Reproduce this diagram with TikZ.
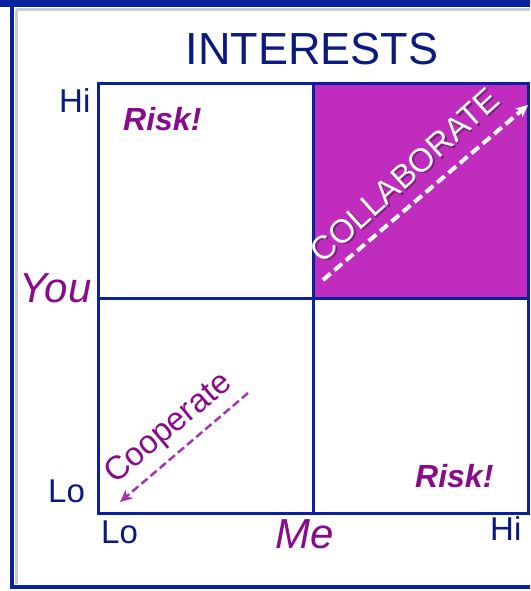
\documentclass[tikz,border=0pt]{standalone}
\usepackage{fontspec}
\setmainfont{Liberation Sans}
\usetikzlibrary{arrows.meta}
\definecolor{frameblue}{HTML}{0A22A0}
\definecolor{navy}{HTML}{0A1A80}
\definecolor{txtpurple}{HTML}{8A0A8C}
\definecolor{cellpurple}{HTML}{C02DBE}
\definecolor{arrowpurple}{HTML}{A535AE}
\begin{document}
\begin{tikzpicture}[x=1pt,y=-1pt,
  lbl/.style={inner sep=0pt, anchor=base west, text=navy, font=\fontsize{33}{33}\selectfont},
  axislbl/.style={inner sep=0pt, anchor=base west, text=txtpurple, font=\fontsize{42}{42}\selectfont\itshape},
  risk/.style={inner sep=0pt, anchor=base west, text=txtpurple, font=\fontsize{32}{32}\selectfont\bfseries\itshape},
  cell/.style={draw=frameblue, line width=3pt, minimum width=215pt, minimum height=215pt, inner sep=0pt, anchor=north west},
  dashwhite/.style={draw=white, line width=4pt, dash pattern=on 10pt off 5pt, -{Stealth[length=12pt,width=11pt,inset=3pt]}},
  dashpurple/.style={draw=arrowpurple, line width=2.5pt, dash pattern=on 8pt off 4pt, -{Stealth[length=12pt,width=11pt,inset=3pt]}},
]
\useasboundingbox (0,0) rectangle (530,591);
\begin{scope}
\clip (0,0) rectangle (530,591);
\draw[black!20, line width=3pt] (16,10) -- (540,10);
\draw[black!20, line width=3pt] (16,10) -- (16,584);
\draw[frameblue, line width=4pt] (12,3) rectangle (560,587);
\fill[frameblue] (0,0) rectangle (530,7);
\end{scope}
% grid cells
\node[cell, fill=cellpurple] (hh) at (312,82) {};
\node[cell] (lh) at (97,82) {};
\node[cell] (ll) at (97,297) {};
\node[cell] (hl) at (312,297) {};
% title and axis labels
\node[inner sep=0pt, anchor=base, text=navy, font=\fontsize{45}{45}\selectfont] (title) at (312,65) {INTERESTS};
\node[lbl] (yhi) at (59,113) {Hi};
\node[lbl] (ylo) at (48,502) {Lo};
\node[lbl] (xlo) at (101,543) {Lo};
\node[lbl] (xhi) at (490,540) {Hi};
\node[axislbl] (you) at (19,302) {You};
\node[axislbl] (me) at (275,548) {Me};
\node[risk] (risk1) at (123,131) {Risk!};
\node[risk] (risk2) at (415,487) {Risk!};
% collaborate
\coordinate (cs) at (323,280);
\coordinate (ce) at (528,105);
\draw[dashwhite] (cs) -- (ce);
\node[inner sep=0pt, rotate=42, text=black, opacity=0.35, font=\fontsize{33}{33}\selectfont] (collabshadow) at (406.5,176.5) {COLLABORATE};
\node[inner sep=0pt, rotate=42, text=white, font=\fontsize{33}{33}\selectfont] (collab) at (405,175) {COLLABORATE};
% cooperate
\coordinate (ps) at (248,393);
\coordinate (pe) at (120,502);
\draw[dashpurple] (ps) -- (pe);
\node[inner sep=0pt, rotate=40, text=txtpurple, font=\fontsize{33}{33}\selectfont] (coop) at (169,429) {Cooperate};
\end{tikzpicture}
\end{document}
